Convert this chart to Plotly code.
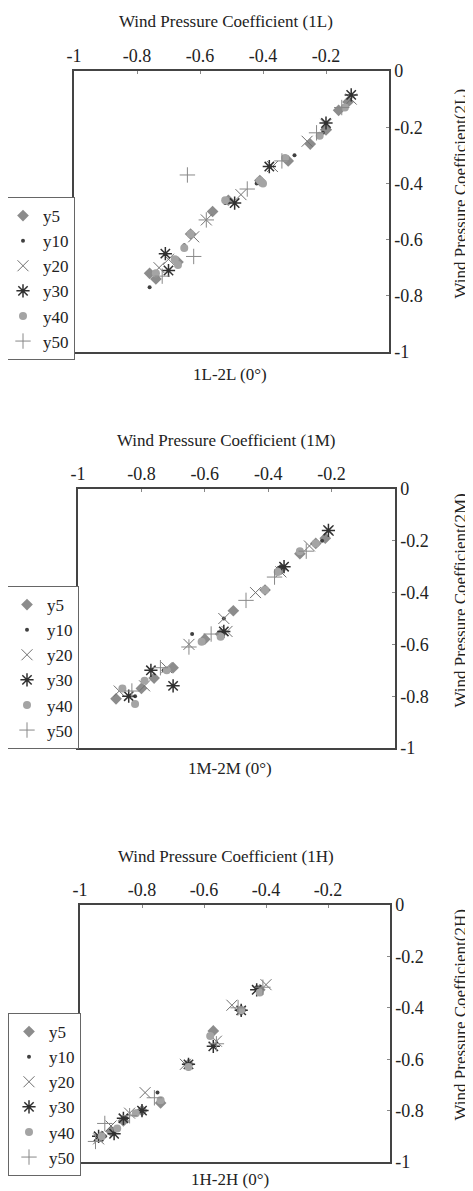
import plotly.graph_objects as go

# page body has an 8px default margin: build the figure in page-pixel coordinates
OFF = 8
W, H = 473 - OFF, 1191 - OFF
FONT = "Liberation Serif, DejaVu Serif, serif"

series_names = ["y5", "y10", "y20", "y30", "y40", "y50"]

# Panel 1 (1L-2L)
p1_x = {
    "y5":  [-0.13, -0.16, -0.20, -0.25, -0.32, -0.41, -0.51, -0.56, -0.63, -0.67, -0.76, -0.74],
    "y10": [-0.14, -0.21, -0.30, -0.42, -0.52, -0.65, -0.76],
    "y20": [-0.12, -0.20, -0.26, -0.37, -0.47, -0.58, -0.62, -0.70, -0.73],
    "y30": [-0.12, -0.20, -0.38, -0.49, -0.71, -0.70],
    "y40": [-0.14, -0.22, -0.33, -0.41, -0.40, -0.52, -0.63, -0.65, -0.68, -0.67, -0.74],
    "y50": [-0.15, -0.23, -0.34, -0.45, -0.58, -0.64, -0.62, -0.72],
}
p1_y = {
    "y5":  [-0.11, -0.14, -0.21, -0.26, -0.32, -0.39, -0.46, -0.50, -0.58, -0.68, -0.72, -0.74],
    "y10": [-0.13, -0.22, -0.30, -0.40, -0.47, -0.62, -0.77],
    "y20": [-0.10, -0.19, -0.25, -0.34, -0.44, -0.53, -0.59, -0.67, -0.70],
    "y30": [-0.085, -0.185, -0.34, -0.47, -0.65, -0.71],
    "y40": [-0.13, -0.23, -0.31, -0.39, -0.40, -0.46, -0.58, -0.63, -0.67, -0.69, -0.72],
    "y50": [-0.13, -0.22, -0.32, -0.42, -0.53, -0.37, -0.66, -0.73],
}

# Panel 2 (1M-2M)
p2_x = {
    "y5":  [-0.22, -0.25, -0.30, -0.36, -0.41, -0.51, -0.55, -0.60, -0.70, -0.76, -0.80, -0.88],
    "y10": [-0.23, -0.36, -0.54, -0.64, -0.73, -0.82],
    "y20": [-0.21, -0.27, -0.36, -0.44, -0.54, -0.53, -0.65, -0.72, -0.79, -0.87],
    "y30": [-0.21, -0.35, -0.54, -0.70, -0.77, -0.84],
    "y40": [-0.25, -0.30, -0.37, -0.41, -0.55, -0.61, -0.72, -0.79, -0.82, -0.86],
    "y50": [-0.28, -0.38, -0.47, -0.58, -0.65, -0.74, -0.83],
}
p2_y = {
    "y5":  [-0.19, -0.21, -0.25, -0.31, -0.39, -0.47, -0.56, -0.58, -0.69, -0.73, -0.77, -0.81],
    "y10": [-0.20, -0.30, -0.50, -0.56, -0.70, -0.80],
    "y20": [-0.16, -0.22, -0.32, -0.40, -0.50, -0.55, -0.60, -0.69, -0.76, -0.78],
    "y30": [-0.16, -0.30, -0.55, -0.76, -0.70, -0.80],
    "y40": [-0.21, -0.24, -0.32, -0.39, -0.57, -0.59, -0.70, -0.74, -0.83, -0.77],
    "y50": [-0.24, -0.34, -0.43, -0.56, -0.61, -0.69, -0.78],
}

# Panel 3 (1H-2H)
p3_x = {
    "y5":  [-0.42, -0.48, -0.57, -0.65, -0.74, -0.80, -0.86, -0.90, -0.93],
    "y10": [-0.43, -0.49, -0.57, -0.65, -0.75, -0.85, -0.92],
    "y20": [-0.40, -0.51, -0.56, -0.66, -0.79, -0.84, -0.90, -0.94],
    "y30": [-0.43, -0.48, -0.57, -0.65, -0.80, -0.86, -0.89, -0.94],
    "y40": [-0.42, -0.48, -0.58, -0.65, -0.74, -0.82, -0.88, -0.93],
    "y50": [-0.41, -0.49, -0.56, -0.76, -0.84, -0.92, -0.95],
}
p3_y = {
    "y5":  [-0.33, -0.41, -0.49, -0.62, -0.77, -0.80, -0.84, -0.88, -0.90],
    "y10": [-0.32, -0.41, -0.55, -0.62, -0.73, -0.83, -0.90],
    "y20": [-0.31, -0.39, -0.53, -0.62, -0.73, -0.81, -0.86, -0.91],
    "y30": [-0.33, -0.41, -0.55, -0.62, -0.80, -0.83, -0.89, -0.90],
    "y40": [-0.34, -0.41, -0.51, -0.63, -0.76, -0.81, -0.87, -0.90],
    "y50": [-0.32, -0.40, -0.54, -0.75, -0.82, -0.85, -0.92],
}

x_tickvals = [-1, -0.8, -0.6, -0.4, -0.2]
x_ticktext = ["-1", "-0.8", "-0.6", "-0.4", "-0.2"]
y_tickvals = [0, -0.2, -0.4, -0.6, -0.8, -1]
y_ticktext = ["0", "-0.2", "-0.4", "-0.6", "-0.8", "-1"]

top_titles = ["Wind Pressure Coefficient (1L)", "Wind Pressure Coefficient (1M)", "Wind Pressure Coefficient (1H)"]
right_titles = ["Wind Pressure Coefficient(2L)", "Wind Pressure Coefficient(2M)", "Wind Pressure Coefficient(2H)"]
bottom_titles = ["1L-2L (0°)", "1M-2M (0°)", "1H-2H (0°)"]

styles = {
    "y5":  dict(symbol="diamond", size=9, color="#8c8c8c"),
    "y10": dict(symbol="circle", size=4, color="#404040"),
    "y20": dict(symbol="x-thin-open", size=11, color="#707070", line=dict(width=1, color="#707070")),
    "y30": dict(symbol="asterisk-open", size=11, color="#303030", line=dict(width=1.5, color="#303030")),
    "y40": dict(symbol="circle", size=8, color="#a4a4a4"),
    "y50": dict(symbol="cross-thin-open", size=11, color="#888888", line=dict(width=1, color="#888888")),
}

# panel boxes in page pixels: left, right, top, bottom
boxes = [(74, 389, 71, 352), (78, 395, 489, 748), (80, 390, 905, 1162)]
legend_tops = [197, 586, 1013]
bottom_title_y = [374, 768, 1179]

def px(v):
    return (v - OFF) / W

def py(v):
    return 1 - (v - OFF) / H

fig = go.Figure()
panels = [(p1_x, p1_y), (p2_x, p2_y), (p3_x, p3_y)]
annotations = []
layout = {}
for i, (dx, dy) in enumerate(panels):
    n = "" if i == 0 else str(i + 1)
    leg = "legend" if i == 0 else "legend" + str(i + 1)
    for s in series_names:
        fig.add_trace(go.Scatter(
            x=dx[s], y=dy[s], mode="markers", name=s,
            marker=styles[s], xaxis="x" + n, yaxis="y" + n,
            legend=leg, showlegend=True,
        ))
    l, r, t, b = boxes[i]
    common = dict(
        range=[-1, 0], ticks="inside", ticklen=3, tickcolor="#888",
        showline=True, mirror=True, linecolor="#444", linewidth=1.5,
        showgrid=False, zeroline=False, automargin=False,
        tickfont=dict(family=FONT, size=18, color="#222"),
    )
    layout["xaxis" + n] = dict(
        domain=[px(l), px(r)], anchor="y" + n, side="top",
        tickvals=x_tickvals, ticktext=x_ticktext, **common,
    )
    layout["yaxis" + n] = dict(
        domain=[py(b), py(t)], anchor="x" + n, side="right",
        tickvals=y_tickvals, ticktext=y_ticktext, **common,
    )
    layout[leg] = dict(
        x=px(l + 1), y=py(legend_tops[i]), xanchor="right", yanchor="top",
        bgcolor="white", bordercolor="#666", borderwidth=1,
        font=dict(family=FONT, size=17, color="#222"), itemwidth=30,
        tracegroupgap=0,
    )
    ann_common = dict(xref="paper", yref="paper", showarrow=False,
                      xanchor="center", yanchor="middle",
                      font=dict(family=FONT, size=17, color="#222"))
    annotations.append(dict(text=top_titles[i], x=px(226), y=py(t - 49), **ann_common))
    annotations.append(dict(text=bottom_titles[i], x=px(230), y=py(bottom_title_y[i]), **ann_common))
    annotations.append(dict(text=right_titles[i], x=px(460), y=py((t + b) / 2 - 18),
                            textangle=-90, **ann_common))

fig.update_layout(
    width=W, height=H, margin=dict(l=0, r=0, t=0, b=0, autoexpand=False),
    paper_bgcolor="white", plot_bgcolor="white",
    annotations=annotations, **layout,
)

fig.write_html("out.html")
